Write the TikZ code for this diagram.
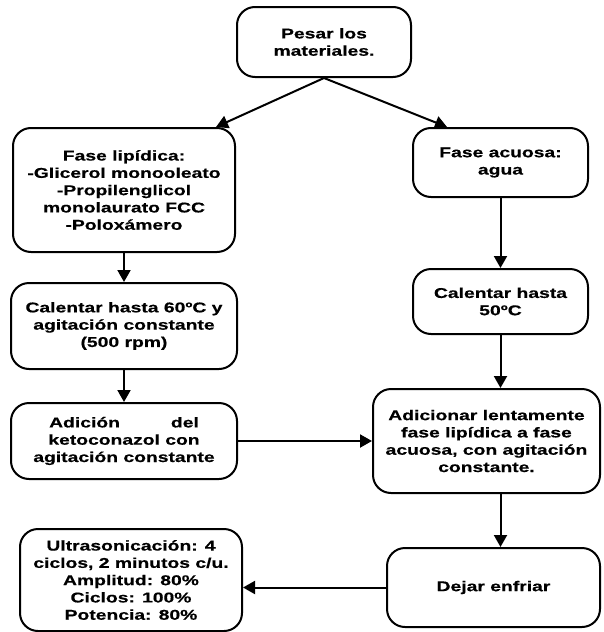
\documentclass[tikz,border=0pt]{standalone}
\usepackage{fontspec}
\newfontfamily\boxfont{Liberation Sans}[FakeStretch=1.36,FakeBold=0.5]
\usepackage{tikz}
\usetikzlibrary{positioning,arrows.meta}
\tikzset{>={Triangle[length=12pt,width=13pt]}}
\tikzstyle{step box} = [draw,
                        line width=2pt,
                        rounded corners=18pt,
                        align=center,
                        inner sep=4pt,
                        font=\boxfont\bfseries\fontsize{14.2}{17.3}\selectfont]
\tikzstyle{arrow}  = [->,
                      line width=2pt]

\begin{document}
\begin{tikzpicture}[x=1pt,y=-1pt]

  \useasboundingbox (0,0) rectangle (603,632);

  % Nodes
  \node[step box, minimum width=174pt, minimum height=70pt] (pesar) at (324,42)
    {Pesar los\\materiales.};
  \node[step box, minimum width=222pt, minimum height=124pt] (lipid) at (124,190)
    {Fase lipídica:\\-Glicerol monooleato\\-Propilenglicol\\monolaurato FCC\\-Poloxámero};
  \node[step box, minimum width=175pt, minimum height=69pt] (acuosa) at (500.5,162.5)
    {Fase acuosa:\\agua};
  \node[step box, minimum width=226pt, minimum height=86pt, below=29pt of lipid] (cal60)
    {Calentar hasta 60ºC y\\agitación constante\\(500 rpm)};
  \node[step box, minimum width=226pt, minimum height=76pt, below=32pt of cal60] (adicion)
    {Adición\hspace{51pt}del\\ketoconazol con\\agitación constante};
  \node[step box, minimum width=175pt, minimum height=65pt, below=70pt of acuosa] (cal50)
    {Calentar hasta\\50ºC};
  \node[step box, minimum width=227pt, minimum height=104pt, below=53pt of cal50, xshift=-14pt] (adicionar)
    {Adicionar lentamente\\fase lipídica a fase\\acuosa, con agitación\\constante.};
  \node[step box, minimum width=213pt, minimum height=79pt, below=53pt of adicionar, xshift=7pt] (dejar)
    {Dejar enfriar};
  \node[step box, minimum width=222pt, minimum height=102pt] (ultra) at (131,580)
    {Ultrasonicación: 4\\ciclos, 2 minutos c/u.\\Amplitud: 80\%\\Ciclos: 100\%\\Potencia: 80\%};

  % Edges
  \draw[style=arrow] (pesar.south) -- ([xshift=-20pt]lipid.north east);
  \draw[style=arrow] (pesar.south) -- ([xshift=35pt]acuosa.north west);
  \draw[style=arrow] (lipid) -- (cal60);
  \draw[style=arrow] (cal60) -- (adicion);
  \draw[style=arrow] (acuosa) -- (cal50);
  \draw[style=arrow] (cal50.south) -- (cal50.south |- adicionar.north);
  \draw[style=arrow] (adicion) -- (adicionar);
  \draw[style=arrow] (cal50.south |- adicionar.south) -- (cal50.south |- dejar.north);
  \draw[style=arrow] (dejar.west) -- (dejar.west -| ultra.east);

\end{tikzpicture}
\end{document}
